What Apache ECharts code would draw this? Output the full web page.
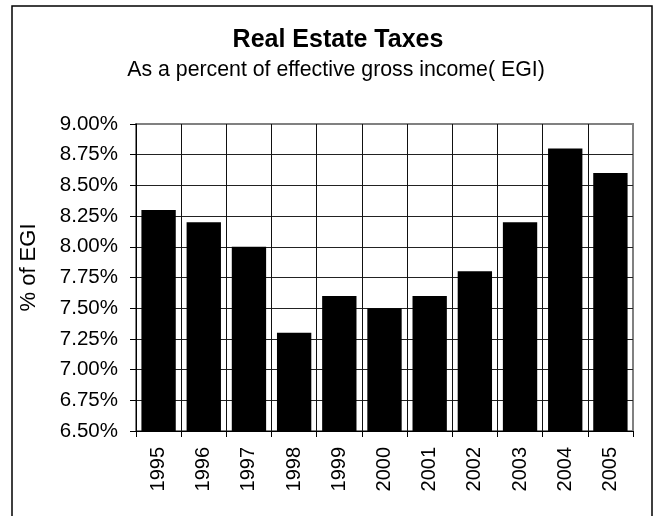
<!DOCTYPE html>
<html>
<head>
<meta charset="utf-8">
<script src="https://cdn.jsdelivr.net/npm/echarts@6/dist/echarts.min.js"></script>
<style>
  html, body { margin: 0; padding: 0; background: #fff; }
  #chart { width: 654px; height: 516px; }
</style>
</head>
<body>
<div id="chart"></div>
<script>
// Real estate taxes as a share of effective gross income, by year
const years = ['1995', '1996', '1997', '1998', '1999', '2000', '2001', '2002', '2003', '2004', '2005'];
const taxPercent = [8.30, 8.20, 8.00, 7.30, 7.60, 7.50, 7.60, 7.80, 8.20, 8.80, 8.60];
const titleText = 'Real Estate Taxes';
const subtitleText = 'As a percent of effective gross income( EGI)';
const yAxisName = '% of EGI';
const yMin = 6.5, yMax = 9.0, yStep = 0.25;

const FONT = '"Liberation Sans", Arial, sans-serif';
const chart = echarts.init(document.getElementById('chart'), null, { renderer: 'canvas' });

chart.setOption({
  backgroundColor: '#fff',
  animation: false,
  textStyle: { fontFamily: FONT, color: '#000' },
  graphic: [{
    type: 'rect',
    shape: { x: 12, y: 6, width: 640, height: 520 },
    style: { fill: 'none', stroke: '#000', lineWidth: 1.5 },
    silent: true,
    z: -10
  }],
  title: [
    {
      text: titleText,
      left: 333, top: 23, textAlign: 'center',
      textStyle: { fontFamily: FONT, fontSize: 25, fontWeight: 'bold', color: '#000' }
    },
    {
      text: subtitleText,
      left: 331, top: 55, textAlign: 'center',
      textStyle: { fontFamily: FONT, fontSize: 21.3, fontWeight: 'normal', color: '#000' }
    }
  ],
  grid: {
    left: 136, right: 21, top: 124, bottom: 85,
    show: true, borderColor: '#808080', borderWidth: 2, backgroundColor: '#fff'
  },
  xAxis: {
    type: 'category',
    data: years,
    boundaryGap: true,
    axisLine: { show: true, lineStyle: { color: '#000', width: 1 } },
    axisTick: { show: true, length: 6, inside: false, lineStyle: { color: '#000' } },
    axisLabel: { rotate: 90, fontSize: 20, color: '#000', margin: 16, fontFamily: FONT },
    splitLine: { show: true, showMinLine: false, showMaxLine: false, lineStyle: { color: '#111', width: 1 } }
  },
  yAxis: {
    type: 'value',
    min: yMin, max: yMax, interval: yStep,
    name: yAxisName,
    nameLocation: 'middle',
    nameGap: 96,
    nameRotate: 90,
    nameTextStyle: { fontSize: 22, color: '#000', fontFamily: FONT, padding: [0, 0, 0, 20] },
    axisLine: { show: true, lineStyle: { color: '#000', width: 1 } },
    axisTick: { show: true, length: 6, lineStyle: { color: '#000' } },
    axisLabel: {
      fontSize: 20.5, color: '#000', margin: 18, fontFamily: FONT,
      formatter: v => v.toFixed(2) + '%'
    },
    splitLine: { show: true, showMinLine: false, showMaxLine: false, lineStyle: { color: '#222', width: 1 } }
  },
  series: [{
    type: 'bar',
    data: taxPercent,
    barCategoryGap: '24%',
    itemStyle: { color: '#000', borderColor: '#000', borderWidth: 0 },
    z: 3
  }]
});
</script>
</body>
</html>
